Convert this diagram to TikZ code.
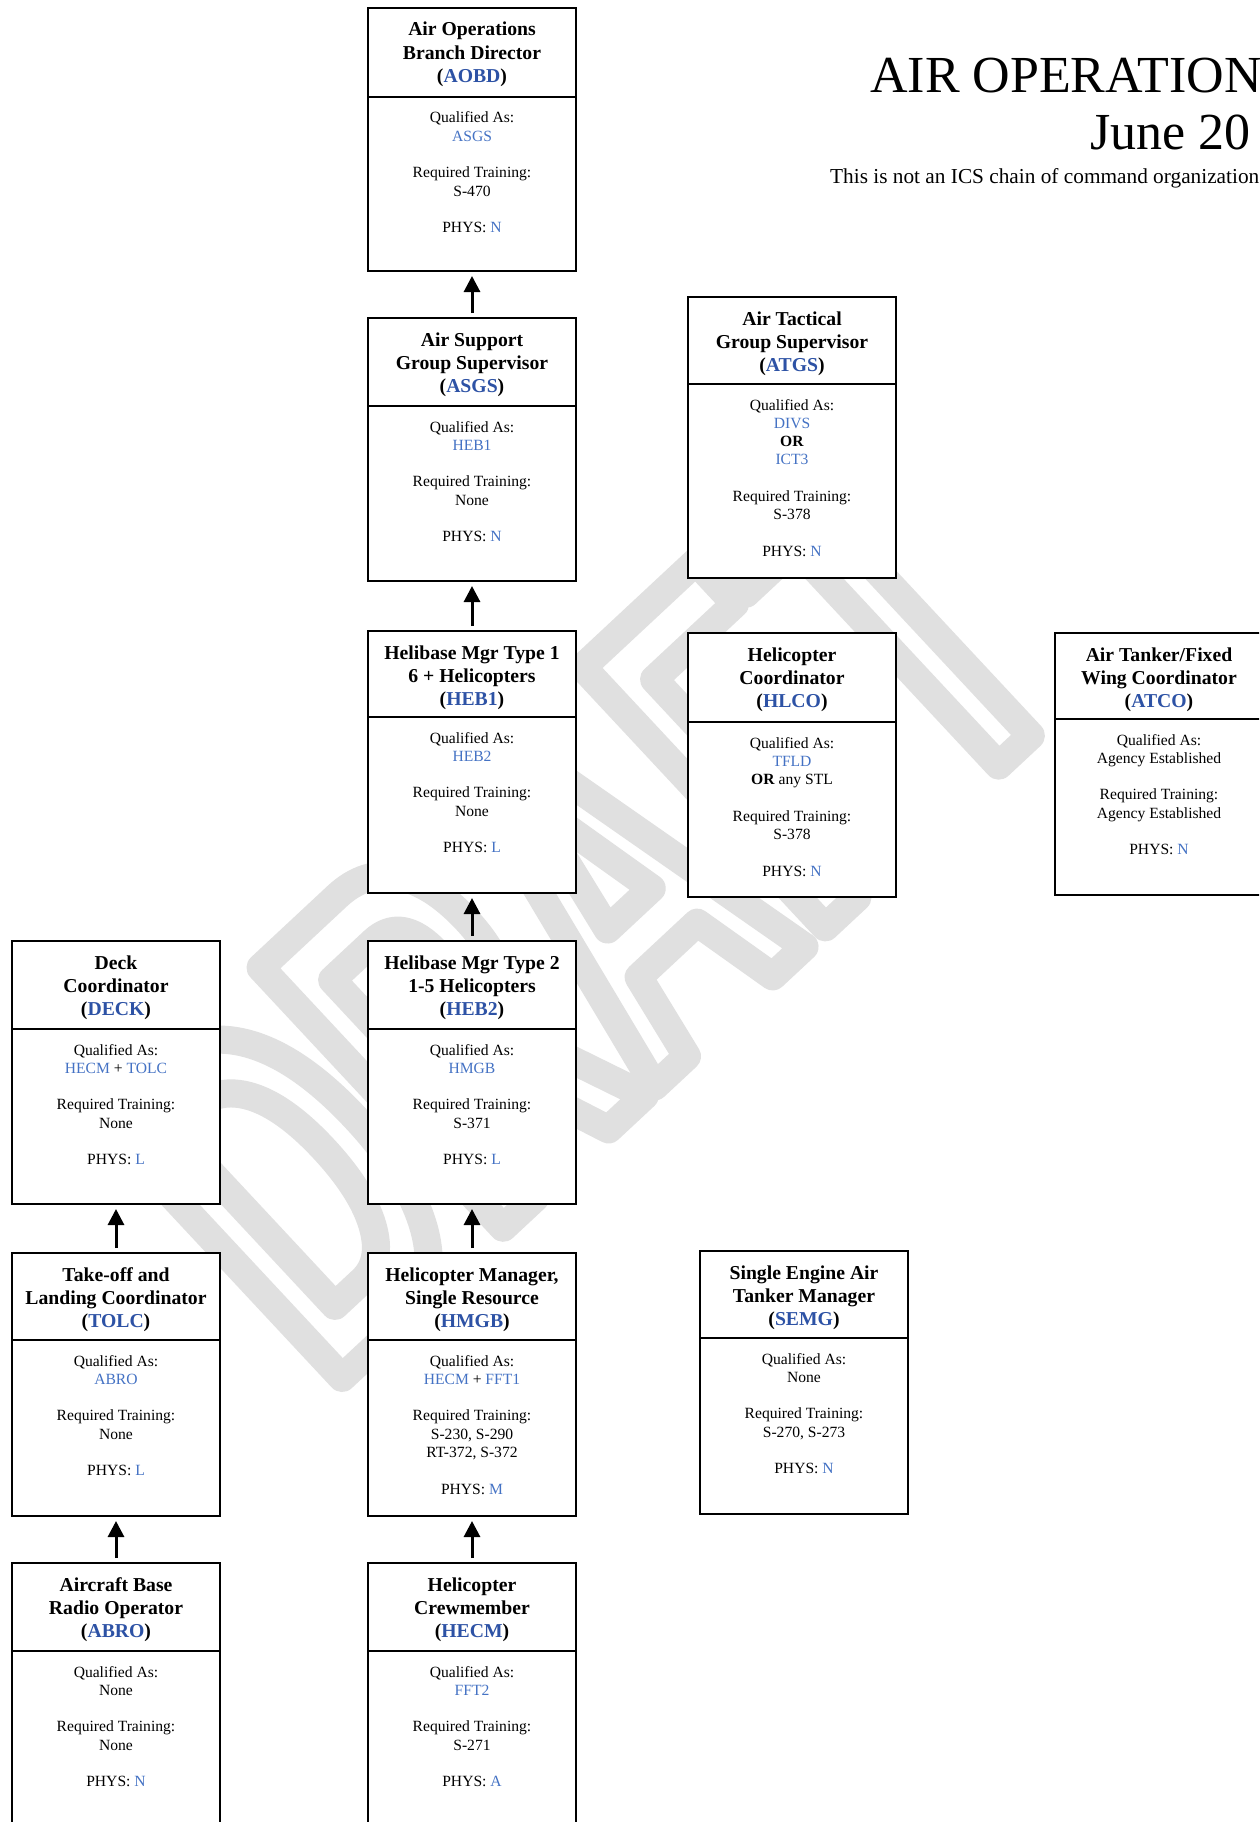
\documentclass[tikz,border=0pt]{standalone}
\usepackage{fontspec}
\setmainfont{Liberation Serif}
\newfontfamily\wmfont{Liberation Sans}[FakeStretch=0.59]
\usetikzlibrary{arrows.meta,calc}
\definecolor{hblue}{RGB}{45,82,165}
\definecolor{tblue}{RGB}{68,114,196}
\definecolor{wmgray}{RGB}{224,224,224}
\newcommand{\hcode}[1]{\textcolor{hblue}{#1}}
\newcommand{\bcode}[1]{\textcolor{tblue}{#1}}
\newcommand{\orgbox}[6]{%
  \node[box, minimum height=#3pt] (#1) at (#2) {};
  \draw[divline] ($(#1.north west)+(0,#4)$) -- ($(#1.north east)+(0,#4)$);
  \node[hdr] (#1-head) at ($(#1.north)+(0,29)$) {\begin{tabular}[t]{@{}c@{}}#5\end{tabular}};
  \node[bdy] (#1-body) at ($(#1.north)+(0,#4+26)$) {\begin{tabular}[t]{@{}c@{}}#6\end{tabular}};
}
\begin{document}
\begin{tikzpicture}[x=1pt,y=-1pt,
  box/.style={draw, line width=2pt, fill=white, rectangle, inner sep=0pt, minimum width=208pt, anchor=north west},
  divline/.style={line width=2pt},
  hdr/.style={anchor=base, inner sep=0pt, font=\fontsize{19.7}{23.3}\selectfont\bfseries},
  bdy/.style={anchor=base, inner sep=0pt, font=\fontsize{15.6}{18.3}\selectfont},
  uparrow/.style={-{Triangle[width=16pt,length=16pt]}, line width=3pt, shorten <=4pt, shorten >=4pt}]
\path[use as bounding box] (0,0) rectangle (1259,1822);
\fill[white] (0,0) rectangle (1259,1822);
\clip (0,0) rectangle (1259,1822);

% watermark
\node[anchor=base west, inner sep=0pt, rotate=43, text=wmgray,
      font=\wmfont\bfseries\fontsize{517}{520}\selectfont] (wm) at (327,1392)
  {\special{pdf:literal direct q 1 Tr 28 w 1 j 0.878 G}DRAFT\special{pdf:literal direct Q}};

% title
\node[anchor=base west, inner sep=0pt, font=\fontsize{52}{60}\selectfont] (title) at (870,93) {AIR OPERATION};
\node[anchor=base west, inner sep=0pt, font=\fontsize{52}{60}\selectfont] (date) at (1090,150) {June 20};
\node[anchor=base west, inner sep=0pt, font=\fontsize{21.3}{25}\selectfont] (note) at (830,184) {This is not an ICS chain of command organization};

% middle column
\orgbox{aobd}{367,7}{263}{90}{Air Operations\\Branch Director\\(\hcode{AOBD})}
  {Qualified As:\\\bcode{ASGS}\\ \\Required Training:\\S-470\\ \\PHYS: \bcode{N}}
\orgbox{asgs}{367,317}{263}{89}{Air Support\\Group Supervisor\\(\hcode{ASGS})}
  {Qualified As:\\\bcode{HEB1}\\ \\Required Training:\\None\\ \\PHYS: \bcode{N}}
\orgbox{heb1}{367,630}{262}{87}{Helibase Mgr Type 1\\6 + Helicopters\\(\hcode{HEB1})}
  {Qualified As:\\\bcode{HEB2}\\ \\Required Training:\\None\\ \\PHYS: \bcode{L}}
\orgbox{heb2}{367,940}{263}{89}{Helibase Mgr Type 2\\1-5 Helicopters\\(\hcode{HEB2})}
  {Qualified As:\\\bcode{HMGB}\\ \\Required Training:\\S-371\\ \\PHYS: \bcode{L}}
\orgbox{hmgb}{367,1252}{263}{88}{Helicopter Manager,\\Single Resource\\(\hcode{HMGB})}
  {Qualified As:\\\bcode{HECM} + \bcode{FFT1}\\ \\Required Training:\\S-230, S-290\\RT-372, S-372\\ \\PHYS: \bcode{M}}
\orgbox{hecm}{367,1562}{300}{89}{Helicopter\\Crewmember\\(\hcode{HECM})}
  {Qualified As:\\\bcode{FFT2}\\ \\Required Training:\\S-271\\ \\PHYS: \bcode{A}}

% left column
\orgbox{deck}{11,940}{263}{89}{Deck\\Coordinator\\(\hcode{DECK})}
  {Qualified As:\\\bcode{HECM} + \bcode{TOLC}\\ \\Required Training:\\None\\ \\PHYS: \bcode{L}}
\orgbox{tolc}{11,1252}{263}{88}{Take-off and\\Landing Coordinator\\(\hcode{TOLC})}
  {Qualified As:\\\bcode{ABRO}\\ \\Required Training:\\None\\ \\PHYS: \bcode{L}}
\orgbox{abro}{11,1562}{300}{89}{Aircraft Base\\Radio Operator\\(\hcode{ABRO})}
  {Qualified As:\\None\\ \\Required Training:\\None\\ \\PHYS: \bcode{N}}

% right columns
\orgbox{atgs}{687,296}{281}{88}{Air Tactical\\Group Supervisor\\(\hcode{ATGS})}
  {Qualified As:\\\bcode{DIVS}\\\textbf{OR}\\\bcode{ICT3}\\ \\Required Training:\\S-378\\ \\PHYS: \bcode{N}}
\orgbox{hlco}{687,632}{264}{90}{Helicopter\\Coordinator\\(\hcode{HLCO})}
  {Qualified As:\\\bcode{TFLD}\\\textbf{OR} any STL\\ \\Required Training:\\S-378\\ \\PHYS: \bcode{N}}
\orgbox{atco}{1054,632}{262}{87}{Air Tanker/Fixed\\Wing Coordinator\\(\hcode{ATCO})}
  {Qualified As:\\Agency Established\\ \\Required Training:\\Agency Established\\ \\PHYS: \bcode{N}}
\orgbox{semg}{699,1250}{263}{88}{Single Engine Air\\Tanker Manager\\(\hcode{SEMG})}
  {Qualified As:\\None\\ \\Required Training:\\S-270, S-273\\ \\PHYS: \bcode{N}}

% arrows
\draw[uparrow] (asgs.north) -- (aobd.south);
\draw[uparrow] (heb1.north) -- (asgs.south);
\draw[uparrow] (heb2.north) -- (heb1.south);
\draw[uparrow] (hmgb.north) -- (heb2.south);
\draw[uparrow] (hecm.north) -- (hmgb.south);
\draw[uparrow] (tolc.north) -- (deck.south);
\draw[uparrow] (abro.north) -- (tolc.south);
\end{tikzpicture}
\end{document}
